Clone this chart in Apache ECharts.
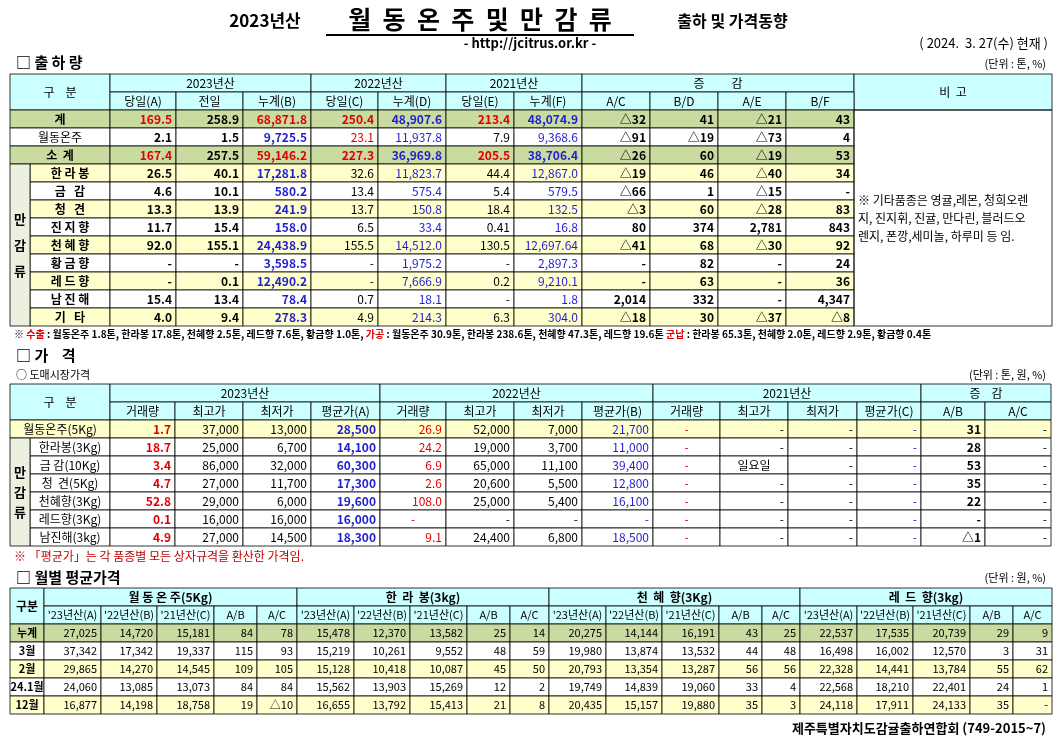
<!DOCTYPE html>
<html>
<head>
<meta charset="utf-8">
<script src="https://cdn.jsdelivr.net/npm/echarts@6/dist/echarts.min.js"></script>
<style>html,body{margin:0;padding:0;background:#fff}#main{width:1062px;height:739px}</style>
</head>
<body>
<div id="main"></div>
<script>
// ---- data ----
var names1 = ['계', '월동온주', '소  계', '한 라 봉', '금   감', '청   견', '진 지 향', '천 혜 향', '황 금 향', '레 드 향', '남 진 해', '기   타'];
var ship1 = [
    ['169.5', '258.9', '68,871.8', '250.4', '48,907.6', '213.4', '48,074.9', '△32', '41', '△21', '43'],
    ['2.1', '1.5', '9,725.5', '23.1', '11,937.8', '7.9', '9,368.6', '△91', '△19', '△73', '4'],
    ['167.4', '257.5', '59,146.2', '227.3', '36,969.8', '205.5', '38,706.4', '△26', '60', '△19', '53'],
    ['26.5', '40.1', '17,281.8', '32.6', '11,823.7', '44.4', '12,867.0', '△19', '46', '△40', '34'],
    ['4.6', '10.1', '580.2', '13.4', '575.4', '5.4', '579.5', '△66', '1', '△15', '-'],
    ['13.3', '13.9', '241.9', '13.7', '150.8', '18.4', '132.5', '△3', '60', '△28', '83'],
    ['11.7', '15.4', '158.0', '6.5', '33.4', '0.41', '16.8', '80', '374', '2,781', '843'],
    ['92.0', '155.1', '24,438.9', '155.5', '14,512.0', '130.5', '12,697.64', '△41', '68', '△30', '92'],
    ['-', '-', '3,598.5', '-', '1,975.2', '-', '2,897.3', '-', '82', '-', '24'],
    ['-', '0.1', '12,490.2', '-', '7,666.9', '0.2', '9,210.1', '-', '63', '-', '36'],
    ['15.4', '13.4', '78.4', '0.7', '18.1', '-', '1.8', '2,014', '332', '-', '4,347'],
    ['4.0', '9.4', '278.3', '4.9', '214.3', '6.3', '304.0', '△18', '30', '△37', '△8']
];
var sub1 = ['당일(A)', '전일', '누계(B)', '당일(C)', '누계(D)', '당일(E)', '누계(F)', 'A/C', 'B/D', 'A/E', 'B/F'];
var remark1 = '※ 기타품종은 영귤,레몬, 청희오렌\n지, 진지휘, 진귤, 만다린, 블러드오\n렌지, 폰깡,세미놀, 하루미 등 임.';

var names2 = ['월동온주(5Kg)', '한라봉(3Kg)', '금 감(10Kg)', '청  견(5Kg)', '천혜향(3Kg)', '레드향(3Kg)', '남진해(3kg)'];
var price2 = [
    ['1.7', '37,000', '13,000', '28,500', '26.9', '52,000', '7,000', '21,700', '-', '-', '-', '-', '31', '-'],
    ['18.7', '25,000', '6,700', '14,100', '24.2', '19,000', '3,700', '11,000', '-', '-', '-', '-', '28', '-'],
    ['3.4', '86,000', '32,000', '60,300', '6.9', '65,000', '11,100', '39,400', '-', '일요일', '-', '-', '53', '-'],
    ['4.7', '27,000', '11,700', '17,300', '2.6', '20,600', '5,500', '12,800', '-', '-', '-', '-', '35', '-'],
    ['52.8', '29,000', '6,000', '19,600', '108.0', '25,000', '5,400', '16,100', '-', '-', '-', '-', '22', '-'],
    ['0.1', '16,000', '16,000', '16,000', '-', '-', '-', '-', '-', '-', '-', '-', '-', '-'],
    ['4.9', '27,000', '14,500', '18,300', '9.1', '24,400', '6,800', '18,500', '-', '-', '-', '-', '△1', '-']
];
var sub2 = ['거래량', '최고가', '최저가', '평균가(A)', '거래량', '최고가', '최저가', '평균가(B)', '거래량', '최고가', '최저가', '평균가(C)', 'A/B', 'A/C'];

var groups3 = ['월 동 온 주(5Kg)', '한  라  봉(3kg)', '천  혜  향(3Kg)', '레  드  향(3kg)'];
var sub3 = ["'23년산(A)", "'22년산(B)", "'21년산(C)", 'A/B', 'A/C'];
var months3 = ['누계', '3월', '2월', '24.1월', '12월'];
var avg3 = [
    ['27,025', '14,720', '15,181', '84', '78', '15,478', '12,370', '13,582', '25', '14', '20,275', '14,144', '16,191', '43', '25', '22,537', '17,535', '20,739', '29', '9'],
    ['37,342', '17,342', '19,337', '115', '93', '15,219', '10,261', '9,552', '48', '59', '19,980', '13,874', '13,532', '44', '48', '16,498', '16,002', '12,570', '3', '31'],
    ['29,865', '14,270', '14,545', '109', '105', '15,128', '10,418', '10,087', '45', '50', '20,793', '13,354', '13,287', '56', '56', '22,328', '14,441', '13,784', '55', '62'],
    ['24,060', '13,085', '13,073', '84', '84', '15,562', '13,903', '15,269', '12', '2', '19,749', '14,839', '19,060', '33', '4', '22,568', '18,210', '22,401', '24', '1'],
    ['16,877', '14,198', '18,758', '19', '△10', '16,655', '13,792', '15,413', '21', '8', '20,435', '15,157', '19,880', '35', '3', '24,118', '17,911', '24,133', '35', '-']
];

// ---- layout ----
var FONT = '"Noto Sans CJK KR", sans-serif';
var HEAD = '#ccffff', GREEN = '#c9dba0', YEL = '#ffffcc', SIDE = '#ebf1de';
var cells = [];
function cell(x0, y0, x1, y1, text, o) {
    o = o || {};
    cells.push({x0: x0, y0: y0, x1: x1, y1: y1, text: text, fill: o.fill || null,
        stroke: o.stroke === undefined ? '#000' : o.stroke, color: o.color || '#000',
        bold: o.bold, align: o.align || 'center', size: o.size || 12, rich: o.rich, lh: o.lh});
}
function txt(x0, y0, x1, y1, text, o) { o = o || {}; o.stroke = null; cell(x0, y0, x1, y1, text, o); }

// titles
txt(215, 8, 315, 34, '2023년산', {size: 17, bold: true});
txt(320, 4, 640, 34, '월  동  온  주  및  만  감  류', {size: 25, bold: true});
cell(326, 34, 634, 36, '', {fill: '#000', stroke: null});
txt(650, 8, 815, 34, '출하 및 가격동향', {size: 16, bold: true});
txt(380, 35, 680, 52, '- http://jcitrus.or.kr -', {size: 13, bold: true});
txt(850, 34, 1052, 52, '( 2024.  3. 27(수) 현재 )', {size: 13, align: 'right'});

// table 1
txt(12, 52, 200, 72, '□ 출 하 량', {size: 15, bold: true, align: 'left'});
txt(900, 55, 1050, 72, '(단위 : 톤, %)', {size: 11, align: 'right'});
var c1 = [110, 176, 243, 311, 378, 446, 514, 582, 650, 718, 786, 854];
cell(10, 74, 110, 110, '구    분', {fill: HEAD});
cell(110, 74, 311, 92, '2023년산', {fill: HEAD});
cell(311, 74, 446, 92, '2022년산', {fill: HEAD});
cell(446, 74, 582, 92, '2021년산', {fill: HEAD});
cell(582, 74, 854, 92, '증          감', {fill: HEAD});
cell(854, 74, 1052, 110, '비  고', {fill: HEAD});
sub1.forEach(function (s, i) { cell(c1[i], 92, c1[i + 1], 110, s, {fill: HEAD}); });
var fill1 = [GREEN, '#fff', GREEN, YEL, '#fff', YEL, '#fff', YEL, '#fff', YEL, '#fff', YEL];
ship1.forEach(function (r, j) {
    var y0 = 110 + 18 * j, y1 = y0 + 18, tot = (j === 0 || j === 2);
    if (j < 3) cell(10, y0, 110, y1, names1[j], {fill: fill1[j], bold: tot});
    else cell(30, y0, 110, y1, names1[j], {fill: fill1[j], bold: true});
    r.forEach(function (v, i) {
        var col = '#000', b = false;
        if (i === 2 || i === 4 || i === 6) col = '#1f1fd0';
        if (tot && (i === 0 || i === 2 || i === 3 || i === 5)) col = '#e00000';
        if (j === 1 && i === 3) col = '#e00000';
        if (i <= 2 || i >= 7) b = true;
        if (tot) b = true;
        cell(c1[i], y0, c1[i + 1], y1, v, {fill: fill1[j], color: col, bold: b, align: 'right'});
    });
});
cell(10, 164, 30, 326, '만\n\n감\n\n류', {fill: SIDE, bold: true, size: 13});
cell(854, 110, 1052, 326, remark1, {align: 'left', lh: 18});
txt(10, 326, 1052, 342, '', {});
cells[cells.length - 1].rich = true;
cells[cells.length - 1].text = '{k|※ }{r|수출}{k| : 월동온주 1.8톤, 한라봉 17.8톤, 천혜향 2.5톤, 레드향 7.6톤, 황금향 1.0톤, }{r|가공}{k| : 월동온주 30.9톤, 한라봉 238.6톤, 천혜향 47.3톤, 레드향 19.6톤 }{r|군납}{k| : 한라봉 65.3톤, 천혜향 2.0톤, 레드향 2.9톤, 황금향 0.4톤}';
cells[cells.length - 1].align = 'left';

// table 2
txt(12, 345, 200, 366, '□ 가    격', {size: 15, bold: true, align: 'left'});
txt(12, 367, 200, 382, '○ 도매시장가격', {size: 11, align: 'left'});
txt(900, 367, 1050, 383, '(단위 : 톤, 원, %)', {size: 11, align: 'right'});
var c2 = [110, 175, 243, 311, 380, 446, 514, 582, 653, 720, 788, 857, 921, 985, 1051];
cell(10, 384, 110, 420, '구    분', {fill: HEAD});
cell(110, 384, 380, 402, '2023년산', {fill: HEAD});
cell(380, 384, 653, 402, '2022년산', {fill: HEAD});
cell(653, 384, 921, 402, '2021년산', {fill: HEAD});
cell(921, 384, 1051, 402, '증    감', {fill: HEAD});
sub2.forEach(function (s, i) { cell(c2[i], 402, c2[i + 1], 420, s, {fill: HEAD}); });
price2.forEach(function (r, j) {
    var y0 = 420 + 18 * j, y1 = y0 + 18, f = j === 0 ? YEL : '#fff';
    if (j === 0) cell(10, y0, 110, y1, names2[j], {fill: f});
    else cell(30, y0, 110, y1, names2[j], {fill: f});
    r.forEach(function (v, i) {
        var col = '#000', b = false;
        if (i === 0 || i === 4 || i === 8) col = '#e00000';
        if (i === 3 || i === 7 || i === 11) col = '#1f1fd0';
        if (i === 0 || i === 3 || i === 12) b = true;
        var al = (v === '-' && (i === 0 || i === 4 || i === 8)) ? 'center' : 'right';
        if (v === '일요일') al = 'center';
        cell(c2[i], y0, c2[i + 1], y1, v, {fill: f, color: col, bold: b, align: al});
    });
});
cell(10, 438, 30, 546, '만\n감\n류', {fill: SIDE, bold: true, size: 13, lh: 20});
txt(10, 548, 700, 564, '※ 「평균가」는 각 품종별 모든 상자규격을 환산한 가격임.', {color: '#c00000', align: 'left'});

// table 3
txt(12, 567, 300, 587, '□ 월별 평균가격', {size: 15, bold: true, align: 'left'});
txt(900, 570, 1050, 586, '(단위 : 원, %)', {size: 11, align: 'right'});
var w3 = [57, 56, 57, 43, 40];
var g3 = [44, 297, 549, 800, 1052];
cell(10, 588, 44, 624, '구분', {fill: HEAD, bold: true});
var c3 = [];
groups3.forEach(function (g, k) {
    cell(g3[k], 588, g3[k + 1], 606, g, {fill: HEAD, bold: true});
    var sc = (g3[k + 1] - g3[k]) / 253, x = g3[k];
    sub3.forEach(function (s, i) {
        var x1 = i === 4 ? g3[k + 1] : Math.round(x + w3[i] * sc);
        c3.push([x, x1]);
        cell(x, 606, x1, 624, s, {fill: HEAD, size: 11});
        x = x1;
    });
});
var fill3 = [GREEN, '#fff', YEL, '#fff', YEL];
avg3.forEach(function (r, j) {
    var y0 = 624 + 18 * j, y1 = y0 + 18;
    cell(10, y0, 44, y1, months3[j], {fill: fill3[j], bold: true, size: 11});
    r.forEach(function (v, i) {
        cell(c3[i][0], y0, c3[i][1], y1, v, {fill: fill3[j], align: 'right', size: 11});
    });
});
txt(700, 718, 1050, 738, '제주특별자치도감귤출하연합회 (749-2015~7)', {size: 13, bold: true, align: 'right'});

// ---- chart ----
var chart = echarts.init(document.getElementById('main'));
chart.setOption({
    animation: false,
    grid: {left: 0, right: 0, top: 0, bottom: 0},
    xAxis: {type: 'value', min: 0, max: 1062, show: false},
    yAxis: {type: 'value', min: 0, max: 739, inverse: true, show: false},
    series: [{
        type: 'custom',
        coordinateSystem: 'cartesian2d',
        data: cells.map(function (c) { return [c.x0, c.y0, c.x1, c.y1]; }),
        renderItem: function (params, api) {
            var c = cells[params.dataIndex];
            var p0 = api.coord([api.value(0), api.value(1)]);
            var p1 = api.coord([api.value(2), api.value(3)]);
            var kids = [];
            if (c.fill || c.stroke) {
                kids.push({type: 'rect', shape: {x: p0[0], y: p0[1], width: p1[0] - p0[0], height: p1[1] - p0[1]},
                    style: {fill: c.fill || 'none', stroke: c.stroke || 'none', lineWidth: 0.8}});
            }
            if (c.text) {
                var tx = c.align === 'left' ? p0[0] + 4 : c.align === 'right' ? p1[0] - 4 : (p0[0] + p1[0]) / 2;
                var st = {text: c.text, x: tx, y: (p0[1] + p1[1]) / 2, align: c.align, verticalAlign: 'middle',
                    fill: c.color, font: (c.bold ? 'bold ' : '') + c.size + 'px ' + FONT};
                if (c.lh) st.lineHeight = c.lh;
                if (c.rich) {
                    st.rich = {
                        k: {fill: '#000', fontSize: 10, fontWeight: 'bold', fontFamily: FONT},
                        r: {fill: '#e00000', fontSize: 10, fontWeight: 'bold', fontFamily: FONT}
                    };
                }
                kids.push({type: 'text', style: st});
            }
            return {type: 'group', children: kids};
        }
    }]
});
</script>
</body>
</html>
